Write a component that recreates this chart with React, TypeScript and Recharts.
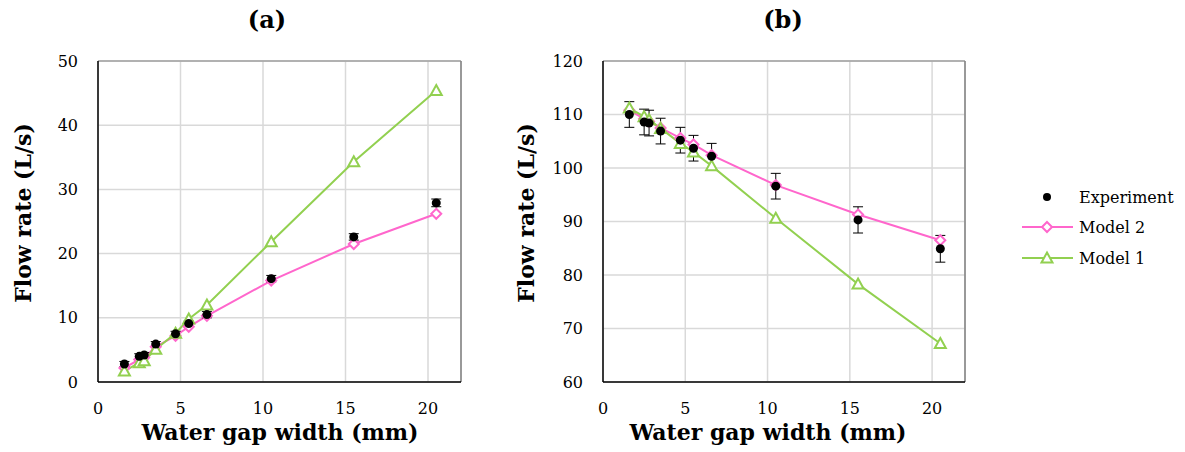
import React from "react";
import {
  ComposedChart,
  Line,
  Scatter,
  ErrorBar,
  XAxis,
  YAxis,
  CartesianGrid,
  ReferenceLine,
} from "recharts";

// ---- data ----
const gapWidth = [1.6, 2.5, 2.8, 3.5, 4.7, 5.5, 6.6, 10.5, 15.5, 20.5];

const expA = [2.8, 4.0, 4.2, 5.9, 7.5, 9.1, 10.5, 16.1, 22.6, 27.9];
const errA = [0.4, 0.4, 0.4, 0.4, 0.4, 0.4, 0.5, 0.5, 0.5, 0.6];
const model2A = [2.2, 3.5, 3.8, 5.5, 7.2, 8.6, 10.3, 15.8, 21.5, 26.2];
const model1A = [1.7, 3.0, 3.3, 5.1, 7.6, 9.8, 12.0, 21.85, 34.3, 45.4];

const expB = [110.0, 108.6, 108.4, 106.9, 105.2, 103.7, 102.2, 96.6, 90.3, 84.9];
const errB = [2.4, 2.4, 2.4, 2.4, 2.4, 2.4, 2.4, 2.4, 2.45, 2.5];
const model2B = [110.8, 109.2, 108.7, 107.5, 105.6, 104.4, 102.4, 96.8, 91.3, 86.5];
const model1B = [111.2, 109.6, 109.0, 107.4, 104.6, 103.0, 100.4, 90.6, 78.3, 67.2];

const xTicks = [0, 5, 10, 15, 20];
const yTicksA = [0, 10, 20, 30, 40, 50];
const yTicksB = [60, 70, 80, 90, 100, 110, 120];

const titleA = "(a)";
const titleB = "(b)";
const xLabel = "Water gap width (mm)";
const yLabel = "Flow rate (L/s)";
const legendNames = ["Experiment", "Model 2", "Model 1"];

// ---- styles ----
const PINK = "#ff66cc";
const GREEN = "#92d050";
const GRID = "#d9d9d9";
const SERIF = "'DejaVu Serif', Georgia, serif";

const buildRows = (exp: number[], err: number[], m2: number[], m1: number[]) =>
  gapWidth.map((x, i) => ({ x, exp: exp[i], err: err[i], m2: m2[i], m1: m1[i] }));

const Diamond = (props: any) => {
  const { cx, cy } = props;
  if (cx == null || cy == null) return null;
  const s = 5;
  return (
    <path
      d={`M${cx},${cy - s} L${cx + s},${cy} L${cx},${cy + s} L${cx - s},${cy} Z`}
      fill="#fff"
      stroke={PINK}
      strokeWidth={2}
    />
  );
};

const Triangle = (props: any) => {
  const { cx, cy } = props;
  if (cx == null || cy == null) return null;
  const w = 5.5;
  return (
    <path
      d={`M${cx},${cy - 5.5} L${cx + w},${cy + 4.5} L${cx - w},${cy + 4.5} Z`}
      fill="#fff"
      stroke={GREEN}
      strokeWidth={2}
    />
  );
};

const Dot = (props: any) => {
  const { cx, cy } = props;
  if (cx == null || cy == null) return null;
  return <circle cx={cx} cy={cy} r={4.5} fill="#000" />;
};

const tickStyle = { fontFamily: SERIF, fontSize: 16, fill: "#000" };

const Panel = ({
  rows,
  yDomain,
  yTicks,
  left,
  marginRight,
}: {
  rows: any[];
  yDomain: [number, number];
  yTicks: number[];
  left: number;
  marginRight: number;
}) => (
  <div style={{ position: "absolute", left, top: 0 }}>
    <ComposedChart
      width={480}
      height={452}
      data={rows}
      margin={{ top: 61, right: marginRight, bottom: 40, left: 0 }}
    >
      <CartesianGrid stroke={GRID} strokeWidth={1.5} />
      <XAxis
        type="number"
        dataKey="x"
        domain={[0, 22]}
        ticks={xTicks}
        allowDataOverflow
        height={30}
        tickLine={false}
        axisLine={{ stroke: "#000", strokeWidth: 1.5 }}
        tick={tickStyle}
        tickMargin={15}
      />
      <YAxis
        type="number"
        domain={yDomain}
        ticks={yTicks}
        allowDataOverflow
        width={98}
        tickLine={false}
        axisLine={{ stroke: "#000", strokeWidth: 1.5 }}
        tick={tickStyle}
        tickMargin={14}
      />
      <ReferenceLine y={yDomain[1]} stroke="#a0a0a0" strokeWidth={1.5} />
      <ReferenceLine x={22} stroke="#808080" strokeWidth={1.5} />
      <Line
        dataKey="m2"
        stroke={PINK}
        strokeWidth={2}
        dot={<Diamond />}
        activeDot={false}
        isAnimationActive={false}
      />
      <Line
        dataKey="m1"
        stroke={GREEN}
        strokeWidth={2}
        dot={<Triangle />}
        activeDot={false}
        isAnimationActive={false}
      />
      <Scatter dataKey="exp" data={rows} shape={<Dot />} isAnimationActive={false}>
        <ErrorBar dataKey="err" direction="y" width={5} stroke="#000" strokeWidth={1} />
      </Scatter>
    </ComposedChart>
  </div>
);

const textBold: React.CSSProperties = {
  position: "absolute",
  fontFamily: SERIF,
  fontWeight: "bold",
  color: "#000",
  whiteSpace: "nowrap",
};

const CenterText = ({ text, x, y, size, rotate }: any) => (
  <div
    style={{
      ...textBold,
      left: x,
      top: y,
      fontSize: size,
      lineHeight: 1,
      transform: `translate(-50%, -50%)${rotate ? " rotate(-90deg)" : ""}`,
    }}
  >
    {text}
  </div>
);

export default function App() {
  const rowsA = buildRows(expA, errA, model2A, model1A);
  const rowsB = buildRows(expB, errB, model2B, model1B);
  return (
    <div
      style={{
        position: "absolute",
        left: 0,
        top: 0,
        width: 1185,
        height: 452,
        background: "#fff",
        overflow: "hidden",
        fontFamily: SERIF,
      }}
    >
      <Panel rows={rowsA} yDomain={[0, 50]} yTicks={yTicksA} left={0} marginRight={19} />
      <Panel rows={rowsB} yDomain={[60, 120]} yTicks={yTicksB} left={505} marginRight={20} />

      <CenterText text={titleA} x={267} y={20} size={24} />
      <CenterText text={titleB} x={783} y={20} size={24} />
      <CenterText text={yLabel} x={23} y={213} size={22} rotate />
      <CenterText text={yLabel} x={526} y={213} size={22} rotate />
      <CenterText text={xLabel} x={280} y={432} size={22} />
      <CenterText text={xLabel} x={768} y={432} size={22} />

      <svg
        style={{ position: "absolute", left: 1000, top: 180 }}
        width={185}
        height={100}
      >
        <circle cx={47} cy={17} r={4} fill="#000" />
        <text x={79} y={17} dominantBaseline="central" style={{ fontFamily: SERIF, fontSize: 16 }}>
          {legendNames[0]}
        </text>
        <line x1={22} y1={47} x2={73} y2={47} stroke={PINK} strokeWidth={2} />
        <Diamond cx={47} cy={47} />
        <text x={79} y={47} dominantBaseline="central" style={{ fontFamily: SERIF, fontSize: 16 }}>
          {legendNames[1]}
        </text>
        <line x1={22} y1={78} x2={73} y2={78} stroke={GREEN} strokeWidth={2} />
        <Triangle cx={47} cy={78} />
        <text x={79} y={78} dominantBaseline="central" style={{ fontFamily: SERIF, fontSize: 16 }}>
          {legendNames[2]}
        </text>
      </svg>
    </div>
  );
}
